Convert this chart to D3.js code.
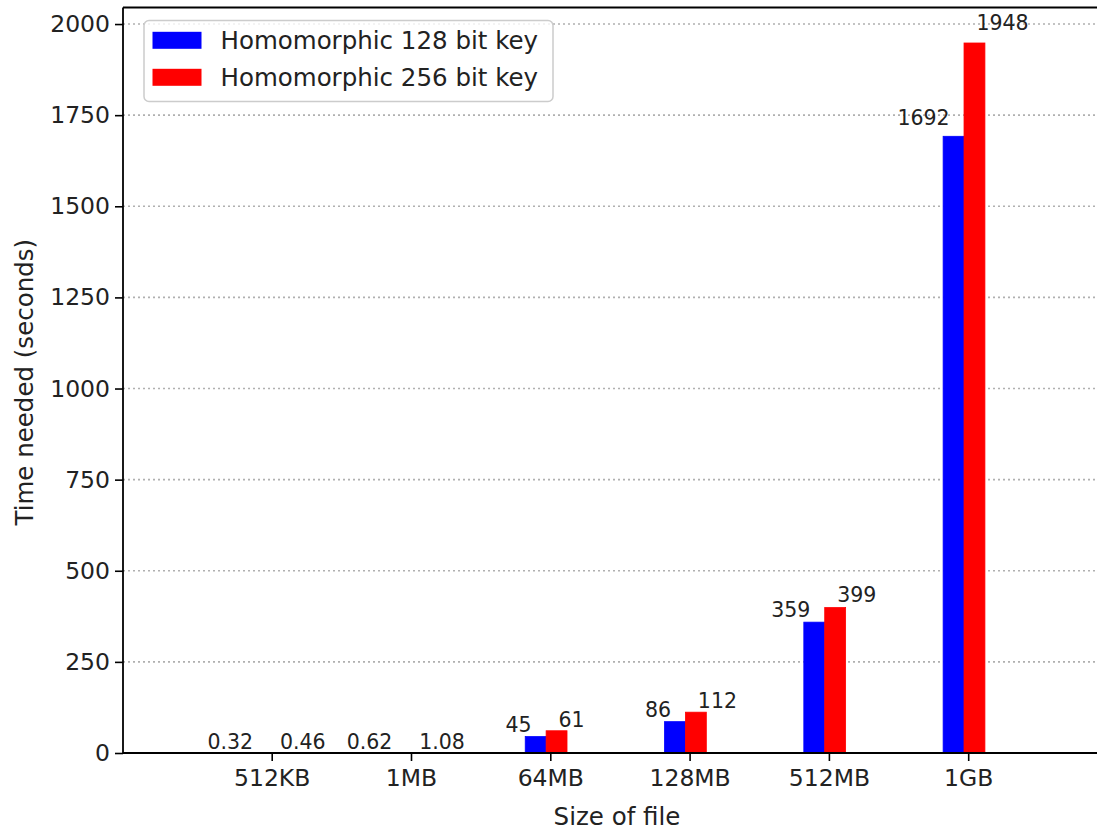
<!DOCTYPE html>
<html>
<head>
<meta charset="utf-8">
<script src="https://cdn.jsdelivr.net/npm/d3@7"></script>
<style>
  html, body { margin: 0; padding: 0; background: #fff; }
  svg { display: block; font-family: "DejaVu Sans", sans-serif; }
</style>
</head>
<body>
<svg id="chart" width="1097" height="830"></svg>
<script>
const categories = ["512KB", "1MB", "64MB", "128MB", "512MB", "1GB"];
const key128 = [0.32, 0.62, 45, 86, 359, 1692];
const key256 = [0.46, 1.08, 61, 112, 399, 1948];
const key128Labels = ["0.32", "0.62", "45", "86", "359", "1692"];
const key256Labels = ["0.46", "1.08", "61", "112", "399", "1948"];
const yTicks = [0, 250, 500, 750, 1000, 1250, 1500, 1750, 2000];
const seriesNames = ["Homomorphic 128 bit key", "Homomorphic 256 bit key"];
const seriesColors = ["#0000ff", "#ff0000"];

(function () {
const svg = d3.select("#chart");
const pLeft = 123, pBottom = 753, pTop = 7.5;
const pxPerUnit = 139.3;
const x0 = 271.7;
const x = d3.scaleLinear()
  .domain([-(x0 - pLeft) / pxPerUnit, 5 + (x0 - pLeft) / pxPerUnit])
  .range([pLeft, pLeft + 2 * (x0 - pLeft) + 5 * pxPerUnit]);
const y = d3.scaleLinear().domain([0, 1948 * 1.05]).range([pBottom, pTop]);
const barW = 0.15;
const textColor = "#222";

// grid
svg.append("g").selectAll("line").data(yTicks).join("line")
  .attr("x1", pLeft).attr("x2", 1097)
  .attr("y1", d => y(d)).attr("y2", d => y(d))
  .attr("stroke", "#b0b0b0").attr("stroke-width", 1.6)
  .attr("stroke-dasharray", "2,3");

// bars
const series = [key128, key256];
const offsets = [-0.18, -0.03];
series.forEach((vals, si) => {
  svg.append("g").selectAll("rect").data(vals).join("rect")
    .attr("x", (d, i) => x(i + offsets[si]))
    .attr("width", x(barW) - x(0))
    .attr("y", d => y(d))
    .attr("height", d => y(0) - y(d))
    .attr("fill", seriesColors[si])
    .attr("stroke", seriesColors[si]).attr("stroke-width", 0.8);
});

// bar labels
const labelSets = [key128Labels, key256Labels];
series.forEach((vals, si) => {
  svg.append("g").selectAll("text").data(vals).join("text")
    .attr("x", (d, i) => x(i + offsets[si] + barW / 2) + (si === 0 ? -4 : 2))
    .attr("y", d => y(d * 1.012) - 4)
    .attr("text-anchor", si === 0 ? "end" : "start")
    .attr("font-size", 20.5)
    .attr("fill", textColor)
    .text((d, i) => labelSets[si][i]);
});

// axes
const yAxis = d3.axisLeft(y).tickValues(yTicks).tickSize(8).tickPadding(5).tickFormat(d3.format("d"));
const gy = svg.append("g").attr("transform", `translate(${pLeft},0)`).call(yAxis);
const xAxis = d3.axisBottom(x).tickValues(d3.range(categories.length)).tickSize(8).tickPadding(8)
  .tickFormat(i => categories[i]);
const gx = svg.append("g").attr("transform", `translate(0,${pBottom})`).call(xAxis);
[gx, gy].forEach(g => {
  g.select(".domain").remove();
  g.selectAll(".tick line").attr("stroke", "#000").attr("stroke-width", 1.6);
  g.selectAll(".tick text").attr("font-size", 23.5).attr("fill", textColor)
    .attr("font-family", "DejaVu Sans");
});

// spines
svg.append("line").attr("x1", pLeft).attr("x2", pLeft).attr("y1", pTop).attr("y2", pBottom)
  .attr("stroke", "#000").attr("stroke-width", 1.8);
svg.append("line").attr("x1", pLeft).attr("x2", 1097).attr("y1", pBottom).attr("y2", pBottom)
  .attr("stroke", "#000").attr("stroke-width", 1.8);
svg.append("line").attr("x1", pLeft).attr("x2", 1097).attr("y1", pTop).attr("y2", pTop)
  .attr("stroke", "#000").attr("stroke-width", 1.8);

// axis titles
svg.append("text").attr("x", 617).attr("y", 825)
  .attr("text-anchor", "middle").attr("font-size", 24.5).attr("fill", textColor)
  .text("Size of file");
svg.append("text").attr("transform", `translate(33,${(pTop + pBottom) / 2 + 2}) rotate(-90)`)
  .attr("text-anchor", "middle").attr("font-size", 24.5).attr("fill", textColor)
  .text("Time needed (seconds)");

// legend
const lg = svg.append("g");
lg.append("rect").attr("x", 144).attr("y", 20.5).attr("width", 409).attr("height", 81)
  .attr("rx", 5).attr("fill", "#fff").attr("fill-opacity", 0.8)
  .attr("stroke", "#cccccc").attr("stroke-width", 1.5);
seriesNames.forEach((name, i) => {
  const cy = 40.3 + i * 37;
  lg.append("rect").attr("x", 152.5).attr("y", cy - 8.5).attr("width", 49).attr("height", 17)
    .attr("fill", seriesColors[i]);
  lg.append("text").attr("x", 220.5).attr("y", cy).attr("dy", "0.35em")
    .attr("font-size", 24.5).attr("fill", textColor).text(name);
});
})();
</script>
</body>
</html>
